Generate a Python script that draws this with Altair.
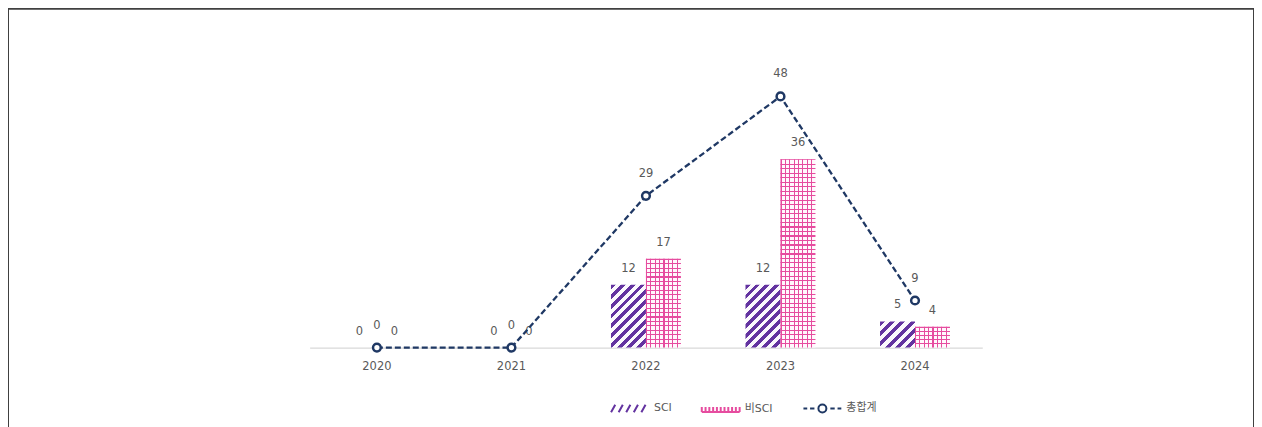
import altair as alt
import pandas as pd

# ---- data ----
years = ["2020", "2021", "2022", "2023", "2024"]
sci = [0, 0, 12, 12, 5]
non_sci = [0, 0, 17, 36, 4]
total = [0, 0, 29, 48, 9]
bar_series = ["SCI", "비SCI"]
legend_series = ["SCI", "비SCI", "총합계"]

# ---- styling ----
PURPLE = "#6333A0"
PINK = "#E64C9F"
NAVY = "#1F3864"
GRAY = "#595959"
FONT = "DejaVu Sans, Noto Sans CJK KR"

PLOT_W, PLOT_H = 1250, 425
Y_BASE, Y_TOP, Y_MAX = 340, 25, 60
X_RANGE = [302.6, 977.4]
PAD_IN, PAD_OUT = 0.48, 0.24
PX_PER_UNIT = (Y_BASE - Y_TOP) / Y_MAX
BAR_W = (X_RANGE[1] - X_RANGE[0]) / (len(years) - PAD_IN + 2 * PAD_OUT) * (1 - PAD_IN) / 2

bars = pd.DataFrame(
    [{"year": y, "series": "SCI", "value": v} for y, v in zip(years, sci)]
    + [{"year": y, "series": "비SCI", "value": v} for y, v in zip(years, non_sci)]
)
totals = pd.DataFrame({"year": years, "total": total})
legend_df = pd.DataFrame({"series": legend_series})

x_scale = alt.Scale(domain=years, range=X_RANGE, paddingInner=PAD_IN,
                    paddingOuter=PAD_OUT, round=False)
y_scale = alt.Scale(domain=[0, Y_MAX], range=[Y_BASE, Y_TOP])
x_axis = alt.Axis(
    title=None, labelAngle=0, ticks=False, labelColor=GRAY, labelFontSize=11.5,
    labelFont=FONT, domainColor="#D9D9D9", domainWidth=1.3, labelPadding=13,
    offset=-(PLOT_H - Y_BASE),
)
X = alt.X("year:N", scale=x_scale, axis=x_axis)
XO = alt.XOffset("series:N", scale=alt.Scale(domain=bar_series, paddingInner=0,
                                             paddingOuter=0, round=False))
Y = alt.Y("value:Q", scale=y_scale, axis=None)


def diag_gradient(w, h, period=9.5, frac=0.5):
    s = w + h
    k = s / (w * w + h * h)
    n = max(1, round(s / period))
    stops = []
    for i in range(n):
        a, b, c = i / n, (i + frac) / n, (i + 1) / n
        stops += [
            {"offset": a, "color": PURPLE}, {"offset": b, "color": PURPLE},
            {"offset": b, "color": "#FBF8FD"}, {"offset": c, "color": "#FBF8FD"},
        ]
    return {"gradient": "linear", "x1": 0, "y1": 0, "x2": k * w, "y2": k * h, "stops": stops}


def line_gradient(length, vertical, gap_color, period=4.5, frac=0.25):
    n = max(1, round(length / period))
    stops = []
    for i in range(n):
        a, b, c = i / n, (i + frac) / n, (i + 1) / n
        stops += [
            {"offset": a, "color": PINK}, {"offset": b, "color": PINK},
            {"offset": b, "color": gap_color}, {"offset": c, "color": gap_color},
        ]
    return {"gradient": "linear", "x1": 0, "y1": 0,
            "x2": 0 if vertical else 1, "y2": 1 if vertical else 0, "stops": stops}


base_bar = alt.Chart(bars).encode(x=X, xOffset=XO, y=Y)
layers = []
for yr, v in zip(years, sci):
    if v > 0:
        h = v * PX_PER_UNIT
        layers.append(
            base_bar.transform_filter(f"datum.year == '{yr}' && datum.series == 'SCI'")
            .mark_bar(fill=diag_gradient(BAR_W, h), strokeWidth=0)
        )
for yr, v in zip(years, non_sci):
    if v > 0:
        h = v * PX_PER_UNIT
        filt = f"datum.year == '{yr}' && datum.series == '비SCI'"
        layers.append(base_bar.transform_filter(filt).mark_bar(
            fill=line_gradient(BAR_W, False, "#FFF8FC"), strokeWidth=0))
        layers.append(base_bar.transform_filter(filt).mark_bar(
            fill=line_gradient(h, True, "rgba(255,255,255,0)"), strokeWidth=0))

bar_labels = alt.Chart(bars).mark_text(
    dy=-16, baseline="middle", fontSize=11.5, color=GRAY, font=FONT
).encode(x=X, xOffset=XO, y=Y, text="value:Q")

line = alt.Chart(totals).mark_line(
    color=NAVY, strokeDash=[6, 3], strokeWidth=2.3
).encode(x=X, y=alt.Y("total:Q", scale=y_scale, axis=None))

points = alt.Chart(totals).mark_point(
    shape="circle", filled=True, fill="white", stroke=NAVY, strokeWidth=2.5, size=60, opacity=1
).encode(x=X, y=alt.Y("total:Q", scale=y_scale, axis=None))

total_labels = alt.Chart(totals).mark_text(
    dy=-22, baseline="middle", fontSize=11.5, color=GRAY, font=FONT
).encode(x=X, y=alt.Y("total:Q", scale=y_scale, axis=None), text="total:Q")

# custom legend symbols (unit coordinates)
sci_path = " ".join(f"M{-1 + i * 0.4:.2f},0.2 L{-0.78 + i * 0.4:.2f},-0.2" for i in range(5))
grid_path = "M-1,0.16 L1,0.16 " + " ".join(
    f"M{-1 + i * 0.2:.2f},-0.1 L{-1 + i * 0.2:.2f},0.16" for i in range(11))
line_path = ("M-1,0 L-0.8,0 M-0.65,0 L-0.42,0 M0.42,0 L0.65,0 M0.8,0 L1,0 "
             "M0.21,0 A0.21,0.21 0 1,1 -0.21,0 A0.21,0.21 0 1,1 0.21,0")

legend = alt.Legend(
    title=None, orient="none", legendX=604, legendY=381, direction="horizontal",
    symbolSize=1444, symbolStrokeWidth=2, labelFontSize=11, labelColor=GRAY,
    labelFont=FONT, labelOffset=4, columnPadding=26, padding=0, symbolOpacity=1,
)
legend_layer = alt.Chart(legend_df).transform_filter("false").mark_point(filled=False).encode(
    color=alt.Color("series:N", scale=alt.Scale(domain=legend_series, range=[PURPLE, PINK, NAVY]), legend=legend),
    shape=alt.Shape("series:N", scale=alt.Scale(domain=legend_series, range=[sci_path, grid_path, line_path]), legend=legend),
)

chart = alt.layer(*layers, bar_labels, line, points, total_labels, legend_layer).properties(
    width=PLOT_W, height=PLOT_H, padding=0, background="white"
).configure_view(stroke="#404040", strokeWidth=2)

chart.save("out.html", embed_options={"renderer": "svg", "actions": False})
